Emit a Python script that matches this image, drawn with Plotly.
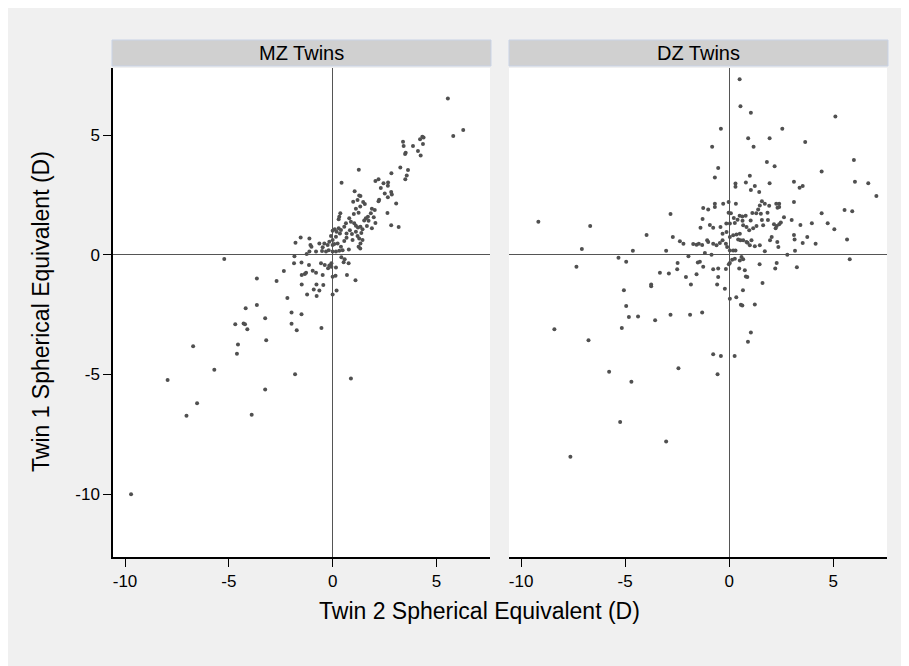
import plotly.graph_objects as go

# ---------------- data ----------------
panel_titles = ["MZ Twins", "DZ Twins"]
x_title = "Twin 2 Spherical Equivalent (D)"
y_title = "Twin 1 Spherical Equivalent (D)"
tick_values = [-10, -5, 0, 5]
tick_labels = ["-10", "-5", "0", "5"]

mz_twin2 = [5.55,5.81,6.29,3.39,3.42,3.52,3.49,3.87,4.21,4.32,
            4.38,4.11,4.24,4.35,3.26,3.63,3.57,3.50,2.83,1.26,
            2.06,2.21,2.45,2.67,2.66,2.32,2.51,2.82,2.85,2.66,
            2.21,2.24,3.06,2.64,2.82,3.18,0.43,1.06,1.28,1.34,
            1.20,1.47,1.55,0.99,1.33,1.12,1.89,2.03,1.84,1.70,
            1.98,1.60,1.52,1.73,2.06,1.89,0.37,0.32,0.29,1.02,
            1.25,0.80,0.88,0.64,0.56,1.04,1.12,1.22,1.34,1.44,
            1.65,0.83,0.67,0.93,1.12,1.38,1.20,0.96,1.28,1.44,
            1.34,1.25,1.33,0.78,0.67,0.56,0.40,0.29,0.10,0.00,
            0.19,0.35,0.16,0.00,-0.08,-0.16,0.08,0.24,0.40,0.48,
            0.00,-0.24,-0.40,-0.64,-0.48,-0.19,0.00,0.16,0.32,-0.32,
            -0.51,-0.80,-1.79,-1.54,-1.12,-1.07,-1.02,-1.12,-1.25,
            -5.22,-3.65,-2.70,-2.35,-2.18,-1.86,-1.84,-1.50,-1.49,-1.49,
            -1.23,-1.14,-1.34,-1.28,-0.96,-0.80,-0.78,-0.77,-0.64,-0.45,
            -0.48,-0.56,-0.38,0.00,0.19,0.14,0.00,0.69,1.10,0.53,
            0.77,0.58,-0.06,0.16,-0.16,-0.22,-0.06,0.42,-0.91,
            -4.19,-3.65,-3.25,-4.69,-4.29,-4.22,-4.11,-1.98,-1.50,-1.98,
            -1.73,-0.54,-3.20,-4.56,-4.61,-6.72,-5.70,-7.95,-1.81,-3.25,
            -6.53,-7.04,-3.90,0.88,-9.71]
mz_twin1 = [6.53,4.96,5.21,4.72,4.54,4.26,4.21,4.54,4.82,4.93,
            4.90,4.33,4.14,4.62,3.64,3.54,3.31,3.15,3.40,3.55,
            3.08,3.15,2.98,3.02,2.88,2.79,2.56,2.62,2.51,2.40,
            2.23,2.30,2.14,1.74,1.23,1.16,3.01,2.65,2.47,2.45,
            2.28,2.20,2.12,2.21,2.01,1.92,1.92,1.87,1.73,1.59,
            1.56,1.52,1.43,1.42,1.32,1.10,1.73,1.59,1.48,1.70,
            1.75,1.52,1.38,1.31,1.17,1.31,1.21,1.14,1.17,1.06,
            1.20,1.02,0.89,0.86,0.96,0.91,0.78,0.61,0.68,0.61,
            0.47,0.33,0.26,0.22,0.71,0.57,1.03,1.10,1.06,1.00,
            0.96,0.89,0.75,0.61,0.78,0.54,0.45,0.47,0.33,0.19,
            0.40,0.40,0.47,0.47,0.31,0.19,0.13,0.13,0.17,0.13,
            0.15,0.13,0.50,0.72,0.68,0.40,0.33,0.13,0.03,
            -0.18,-0.99,-1.10,-0.68,-1.81,-0.36,-0.06,-0.33,-0.85,-1.24,
            -1.66,-0.43,-0.81,-0.75,-0.67,-0.75,-1.25,-1.73,-1.50,-1.27,
            -0.85,-0.36,-0.43,-1.66,-1.50,-0.88,-0.92,-0.85,-1.07,-0.32,
            -0.36,-0.19,-0.36,-0.53,-0.45,-0.57,-0.50,-0.11,-1.45,
            -2.24,-2.10,-2.66,-2.91,-2.87,-2.91,-3.11,-2.42,-2.49,-2.88,
            -3.16,-3.06,-3.57,-3.75,-4.14,-3.82,-4.81,-5.24,-4.99,-5.63,
            -6.21,-6.73,-6.69,-5.17,-10.01]

# DZ twins as (twin 2, twin 1) pairs
dz_pairs = [
    (0.50,7.33),(0.54,6.20),(1.04,5.93),(-0.40,5.26),(5.10,5.77),(2.55,5.26),(0.91,4.87),(1.94,4.87),
    (1.17,4.51),(-0.82,4.51),(3.65,4.71),(5.99,3.96),(1.81,3.87),(2.18,3.69),(-0.53,3.62),(4.44,3.48),
    (-0.69,3.23),(0.99,3.30),(0.80,3.02),(1.94,2.98),(0.30,2.97),(0.30,2.84),(1.23,2.87),(1.04,2.70),
    (1.44,2.62),(3.11,3.05),(3.38,2.80),(3.53,2.87),(6.04,3.05),(6.68,2.98),(7.07,2.45),(3.11,2.20),
    (5.54,1.87),(5.91,1.81),(4.44,1.73),(4.73,1.31),(5.05,1.06),(5.66,0.63),(5.79,-0.19),(3.97,1.31),
    (3.42,1.24),(3.00,1.45),(2.63,1.56),(2.40,2.13),(2.32,1.96),(2.26,2.13),(2.40,1.99),(2.48,1.35),
    (2.40,1.27),(2.28,1.20),(2.23,1.11),(2.15,1.27),(1.57,2.23),(1.71,2.13),(1.92,2.05),(1.47,2.06),
    (1.39,1.89),
    (1.11,1.74),(1.30,1.73),(1.52,1.71),(1.84,1.75),(1.86,1.45),(1.57,1.45),(1.63,1.23),(1.31,1.20),
    (1.15,1.11),(0.96,1.02),(0.83,1.16),(0.67,1.23),(0.64,1.42),(1.03,1.43),(0.79,1.63),(0.63,1.60),
    (0.50,1.63),(0.40,1.46),(0.22,1.53),(0.08,1.73),(-0.03,1.75),(-0.14,1.30),(0.03,1.30),(0.27,1.32),
    (0.32,2.13),(-0.03,2.20),(-0.29,2.13),(-0.69,2.13),(-0.69,1.99),(-1.01,1.89),(-1.25,1.95),(-1.28,1.49),
    (-1.38,1.13),(-0.93,1.24),(-0.77,1.13),(-0.42,1.16),(-0.32,0.88),(-0.13,0.95),(0.03,0.74),(0.19,0.81),
    (0.35,0.84),(0.51,0.88),(0.43,0.64),(0.54,0.60),(0.67,0.60),(0.83,0.53),(0.99,0.39),(0.88,0.50),
    (1.07,0.60),(1.23,0.35),(1.47,0.39),(1.71,0.14),(1.96,0.60),(2.04,0.74),(2.31,0.53),(2.36,0.32),
    (2.79,0.00),(3.16,0.17),(3.11,0.82),(3.14,0.64),(3.53,0.49),(3.75,0.74),(4.15,0.46),
    (-9.17,1.38),(-6.68,1.20),(-7.08,0.24),(-3.97,0.82),(-4.63,0.17),(-2.82,1.70),(-2.71,0.74),(-2.37,0.56),
    (-2.20,0.46),(-3.03,0.17),(-1.73,0.45),(-1.57,0.42),(-1.46,0.46),(-1.30,0.40),(-1.06,0.60),(-1.01,0.53),
    (-0.77,0.46),(-0.61,0.39),(-0.45,0.49),(-0.32,0.60),(-0.16,0.46),(-0.10,0.32),(0.03,0.18),(0.19,0.18),
    (0.30,0.18),(-1.17,0.07),(-0.85,0.00),(-1.96,-0.07),
    (-7.34,-0.50),(-5.32,-0.13),(-4.95,-0.29),
    (-2.48,-0.35),(-2.50,-0.61),(-1.51,-0.33),(-1.41,-0.29),(-1.25,-0.50),(-0.77,-0.61),(-0.53,-0.58),(-0.16,-0.60),
    (0.03,-0.35),(-0.02,-0.40),(0.14,-0.21),(0.27,-0.17),(0.51,-0.24),(0.59,-0.10),(0.67,-0.19),(0.48,-0.58),
    (0.75,-0.65),(0.80,-0.91),(0.87,-0.93),(1.46,-0.40),(2.28,-0.35),(2.21,-0.58),(3.25,-0.52),(1.60,-1.18),
    (-0.21,-1.42),(-0.58,-1.25),(-0.53,-0.93),(-1.57,-0.82),(-2.08,-0.93),(-1.84,-1.25),(-2.90,-0.79),(-3.33,-0.75),
    (-3.75,-1.24),(-3.75,-1.32),(-5.06,-1.49),(-4.95,-2.14),(-4.38,-2.58),(-4.82,-2.60),(-3.56,-2.74),(-2.82,-2.51),
    (-1.88,-2.51),(-1.30,-2.42),(0.03,-1.84),(0.34,-1.78),(0.66,-1.49),(0.56,-2.09),(0.63,-2.12),(1.23,-2.08),
    (-8.40,-3.11),(-6.76,-3.57),(-5.16,-3.06),(1.04,-3.25),(0.90,-3.64),(-0.77,-4.16),(-0.40,-4.23),(0.26,-4.23),
    (-2.44,-4.74),(-0.56,-4.99),(-5.77,-4.89),(-4.70,-5.31),(-5.24,-6.99),(-3.03,-7.80),(-7.63,-8.44),
]
dz_twin2 = [p[0] for p in dz_pairs]
dz_twin1 = [p[1] for p in dz_pairs]

# ---------------- layout geometry (page pixels; page body has an 8px margin) ----------------
OFF = 8
W, H = 909, 666
L, R, T, B = 113 - OFF, 887 - OFF, 68 - OFF, 557 - OFF
PW, PH = R - L, B - T


def px2x(px):  # page x -> paper x
    return (px - OFF - L) / PW


def py2y(py):  # page y -> paper y
    return 1 - (py - OFF - T) / PH


FONT = "Arial, 'Liberation Sans', Helvetica, sans-serif"
MARK = "#505050"
BG = "#F0F0F0"

fig = go.Figure()
fig.add_trace(go.Scatter(x=mz_twin2, y=mz_twin1, mode="markers", xaxis="x", yaxis="y",
                         marker=dict(size=4, color=MARK, line=dict(width=0)), showlegend=False))
fig.add_trace(go.Scatter(x=dz_twin2, y=dz_twin1, mode="markers", xaxis="x2", yaxis="y2",
                         marker=dict(size=4, color=MARK, line=dict(width=0)), showlegend=False))

xr = [-10.58, 7.58]
yr = [-12.63, 7.80]
tickfont = dict(size=17, color="black", family=FONT)
common_x = dict(range=xr, tickvals=tick_values, ticktext=tick_labels, ticks="outside", ticklen=8,
                tickwidth=1, tickcolor="black", showline=True, linecolor="black", linewidth=1.5,
                zeroline=True, zerolinecolor="#555555", zerolinewidth=1, showgrid=False,
                tickfont=tickfont, fixedrange=True)

fig.update_layout(
    width=W, height=H, autosize=False,
    margin=dict(l=L, r=W - R, t=T, b=H - B, pad=0),
    paper_bgcolor=BG, plot_bgcolor="white",
    font=dict(family=FONT, color="black"),
    xaxis=dict(domain=[0, px2x(490)], anchor="y", **common_x),
    xaxis2=dict(domain=[px2x(509), 1], anchor="y2", **common_x),
    yaxis=dict(domain=[0, 1], anchor="x", range=yr, tickvals=tick_values, ticktext=tick_labels,
               ticks="outside", ticklen=8, tickwidth=1, tickcolor="black", showline=True,
               linecolor="black", linewidth=1.5, zeroline=True, zerolinecolor="#555555",
               zerolinewidth=1, showgrid=False, tickfont=tickfont, fixedrange=True),
    yaxis2=dict(domain=[0, 1], anchor="x2", matches="y", range=yr, showticklabels=False,
                ticks="", showline=False, zeroline=True, zerolinecolor="#555555",
                zerolinewidth=1, showgrid=False, fixedrange=True),
)

shapes = []
strips = [(112, 491), (509, 888)]
for (a, b) in strips:
    shapes.append(dict(type="rect", xref="paper", yref="paper", x0=px2x(a), x1=px2x(b),
                       y0=py2y(66), y1=py2y(40), fillcolor="#D0D0D0",
                       line=dict(color="#C9D3E6", width=1), layer="above"))
fig.update_layout(shapes=shapes)

ann = []
for (a, b), t in zip(strips, panel_titles):
    ann.append(dict(text=t, xref="paper", yref="paper", x=px2x((a + b) / 2), y=py2y(53),
                    showarrow=False, xanchor="center", yanchor="middle",
                    font=dict(size=20, color="black", family=FONT)))
ann.append(dict(text=x_title, xref="paper", yref="paper", x=px2x(479), y=py2y(611),
                showarrow=False, xanchor="center", yanchor="middle",
                font=dict(size=23, color="black", family=FONT)))
ann.append(dict(text=y_title, xref="paper", yref="paper", x=px2x(41), y=py2y(312),
                showarrow=False, xanchor="center", yanchor="middle", textangle=-90,
                font=dict(size=23, color="black", family=FONT)))
fig.update_layout(annotations=ann)

fig.write_html("out.html")
